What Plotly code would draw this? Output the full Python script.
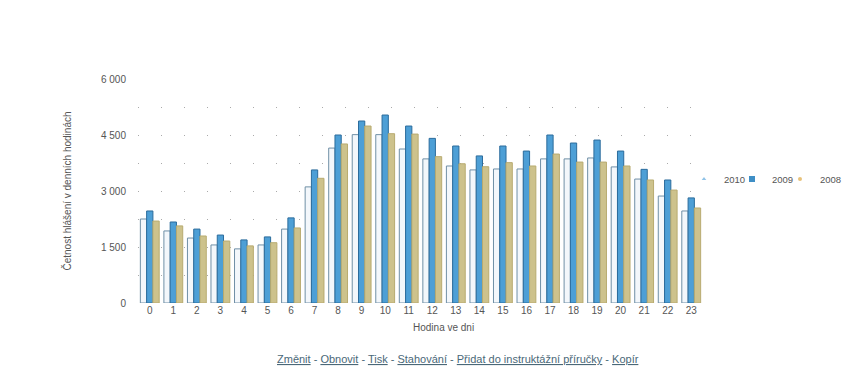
import plotly.graph_objects as go

hours = [str(h) for h in range(24)]
y2010 = [2250, 1930, 1740, 1555, 1450, 1555, 1980, 3110, 4150, 4510, 4510, 4125,
         3860, 3670, 3565, 3590, 3590, 3860, 3860, 3885, 3645, 3320, 2865, 2465]
y2009 = [2465, 2170, 1980, 1820, 1690, 1770, 2280, 3565, 4500, 4875, 5035, 4740,
         4410, 4205, 3940, 4205, 4070, 4500, 4285, 4365, 4070, 3580, 3295, 2815]
y2008 = [2195, 2065, 1795, 1660, 1530, 1615, 2010, 3340, 4260, 4740, 4535, 4525,
         3920, 3730, 3650, 3760, 3670, 3990, 3775, 3775, 3670, 3295, 3025, 2545]
ytickvals = [0, 1500, 3000, 4500, 6000]
yticktext = ["0", "1 500", "3 000", "4 500", "6 000"]

FONT = "Liberation Sans"
GRAY = "#555555"
C2010, C2009, C2008 = "#8fc3e8", "#3f8fc6", "#e8c27a"

fig = go.Figure()
fig.add_trace(go.Bar(name="2010", x=hours, y=y2010, showlegend=False,
                     marker=dict(color="rgba(235,242,248,0.6)",
                                 line=dict(color="#6f8fa6", width=1))))
fig.add_trace(go.Bar(name="2009", x=hours, y=y2009, showlegend=False,
                     marker=dict(color="#4d9fd6",
                                 line=dict(color="#2c6c9c", width=1))))
fig.add_trace(go.Bar(name="2008", x=hours, y=y2008, showlegend=False,
                     marker=dict(color="#cdc28c",
                                 line=dict(color="#b8ab70", width=1))))

# legend entries (one legend per entry so spacing can match the reference)
leg_specs = [("2010", C2010, "triangle-up", 4, "legend"),
             ("2009", C2009, "square", 6, "legend2"),
             ("2008", C2008, "circle", 4, "legend3")]
for name, col, sym, sz, lg in leg_specs:
    fig.add_trace(go.Scatter(name=name, x=[None], y=[None], mode="markers",
                             marker=dict(color=col, symbol=sym, size=sz),
                             legend=lg, showlegend=True))

# page has an 8px body margin, so figure coords = page coords - 8;
# keep the figure small enough that the page does not scroll
W, H = 834, 368
L, T = 130, 71
PW, PH = 565, 224
R, B = W - L - PW, H - T - PH

def px(xp):  # page x -> paper x
    return (xp - 8 - L) / PW

def py(yp):  # page y -> paper y
    return (T + PH - (yp - 8)) / PH

legend_common = dict(orientation="h", xanchor="left", y=py(179), yanchor="middle",
                     font=dict(family=FONT, size=9.5, color=GRAY), itemwidth=30,
                     bgcolor="rgba(0,0,0,0)", borderwidth=0, tracegroupgap=0)

fig.update_layout(
    width=W, height=H,
    margin=dict(l=L, r=R, t=T, b=B, autoexpand=False),
    paper_bgcolor="white", plot_bgcolor="white",
    barmode="group", bargap=0.2, bargroupgap=0,
    font=dict(family=FONT, size=10, color=GRAY),
    showlegend=True,
    legend=dict(x=px(684), **legend_common),
    legend2=dict(x=px(732), **legend_common),
    legend3=dict(x=px(780), **legend_common),
    xaxis=dict(showgrid=False, showline=False, zeroline=False, ticks="", automargin=False,
               tickfont=dict(size=10, color=GRAY)),
    yaxis=dict(title=dict(text="Četnost hlášení v denních hodinách",
                          font=dict(size=10, color=GRAY), standoff=27),
               range=[0, 6000], tickvals=ytickvals, ticktext=yticktext, automargin=False,
               tickfont=dict(size=10, color=GRAY), ticks="", ticklabelstandoff=11,
               showgrid=True, gridcolor="#aaaaaa", gridwidth=1, griddash="1px,22px",
               minor=dict(dtick=750, showgrid=True, gridcolor="#aaaaaa",
                          griddash="1px,22px"),
               zeroline=False, showline=False),
)

# x-axis title (placed where the reference shows it)
fig.add_annotation(text="Hodina ve dni", xref="paper", yref="paper", x=px(443), y=py(327),
                   xanchor="center", yanchor="middle", showarrow=False,
                   font=dict(family=FONT, size=10, color=GRAY))

links = ["Změnit", "Obnovit", "Tisk", "Stahování", "Přidat do instruktážní příručky", "Kopír"]
text = " - ".join("<u>%s</u>" % s for s in links)
fig.add_annotation(text=text, xref="paper", yref="paper", x=px(275), y=py(359),
                   xanchor="left", yanchor="middle", showarrow=False,
                   font=dict(family=FONT, size=11, color="#4a6878"))

fig.write_html("out.html")
